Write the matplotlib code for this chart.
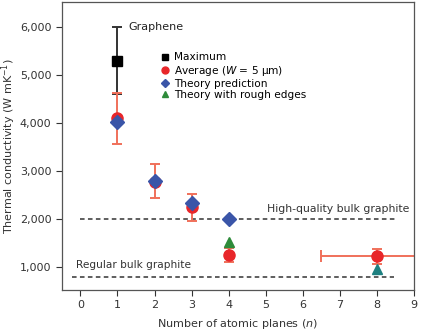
import matplotlib
matplotlib.use('Agg')
import matplotlib.pyplot as plt

# data
max_n = [1]
max_k = [5300]
max_lo = [4600]
max_hi = [6000]

avg_n = [1, 2, 3, 4, 8]
avg_k = [4100, 2780, 2240, 1260, 1220]
avg_lo = [3560, 2430, 1950, 1100, 1060]
avg_hi = [4620, 3140, 2530, 1400, 1380]
avg8_xlo = 6.5
avg8_xhi = 9.6

theory_n = [1, 2, 3, 4]
theory_k = [4020, 2800, 2340, 2000]

rough_n = [4, 8]
rough_k = [1520, 960]

hq_graphite = 2000
reg_graphite = 800

plt.rcParams['font.family'] = 'DejaVu Sans'
plt.rcParams['font.size'] = 8

red = '#e8262a'
err_red = '#f0705a'
blue = '#3a55a8'
green = '#2e8b3a'
teal = '#1d8080'

fig = plt.figure(figsize=(4.21, 3.33), dpi=100)
ax = fig.add_axes([0.147, 0.129, 0.836, 0.865])

# reference lines
ax.plot([0, 8.5], [hq_graphite, hq_graphite], ls='--', color='#333333', lw=1.1, dashes=(3, 2.2))
ax.plot([-0.22, 8.46], [reg_graphite, reg_graphite], ls='--', color='#333333', lw=1.1, dashes=(3, 2.2))
ax.text(5.03, hq_graphite + 215, 'High-quality bulk graphite', va='center', ha='left',
        color='#333333', fontsize=7.8)
ax.text(-0.13, reg_graphite + 240, 'Regular bulk graphite', va='center', ha='left',
        color='#333333', fontsize=7.6)

# maximum
ax.errorbar(max_n, max_k,
            yerr=[[k - l for k, l in zip(max_k, max_lo)], [h - k for k, h in zip(max_k, max_hi)]],
            fmt='none', ecolor='#333333', elinewidth=1.4, capsize=3.5, capthick=1.4, zorder=2)
ax.plot(max_n, max_k, 's', color='black', ms=7, zorder=4)
ax.text(1.3, 6000, 'Graphene', va='center', ha='left', color='#222222')

# average
ax.errorbar(avg_n, avg_k,
            yerr=[[k - l for k, l in zip(avg_k, avg_lo)], [h - k for k, h in zip(avg_k, avg_hi)]],
            fmt='none', ecolor=err_red, elinewidth=1.4, capsize=3.5, capthick=1.4, zorder=2)
ax.errorbar([avg_n[-1]], [avg_k[-1]],
            xerr=[[avg_n[-1] - avg8_xlo], [avg8_xhi - avg_n[-1]]],
            fmt='none', ecolor=err_red, elinewidth=1.4, capsize=4, capthick=1.4, zorder=2)
ax.plot(avg_n, avg_k, 'o', color=red, ms=8, zorder=3)

# theory
ax.plot(theory_n, theory_k, 'D', color=blue, ms=7, zorder=4)
ax.plot(rough_n[:1], rough_k[:1], '^', color=green, ms=7.5, zorder=4)
ax.plot(rough_n[1:], rough_k[1:], '^', color=teal, ms=7.5, zorder=4)

# legend
h1, = ax.plot([], [], 's', color='black', ms=4.5)
h2, = ax.plot([], [], 'o', color=red, ms=5)
h3, = ax.plot([], [], 'D', color=blue, ms=4.5)
h4, = ax.plot([], [], '^', color=green, ms=5)
ax.legend([h1, h2, h3, h4],
          ['Maximum', 'Average ($W$ = 5 µm)', 'Theory prediction', 'Theory with rough edges'],
          loc='upper left', bbox_to_anchor=(0.27, 0.84), frameon=False,
          handlelength=0.8, handletextpad=0.45, labelspacing=0.12, borderaxespad=0,
          fontsize=7.6)

ax.set_xlim(-0.5, 9)
ax.set_ylim(520, 6520)
ax.set_xticks(range(0, 10))
ax.set_yticks([1000, 2000, 3000, 4000, 5000, 6000])
ax.set_yticklabels(['1,000', '2,000', '3,000', '4,000', '5,000', '6,000'])
ax.tick_params(direction='out', length=4, width=0.8, colors='#333333', labelcolor='#333333')
for s in ax.spines.values():
    s.set_color('#555555')
    s.set_linewidth(0.9)

ax.set_xlabel('Number of atomic planes ($n$)', color='#333333', labelpad=5)
ax.set_ylabel('Thermal conductivity (W mK$^{-1}$)', color='#333333', labelpad=1)

fig.savefig('out.png', dpi=100)
